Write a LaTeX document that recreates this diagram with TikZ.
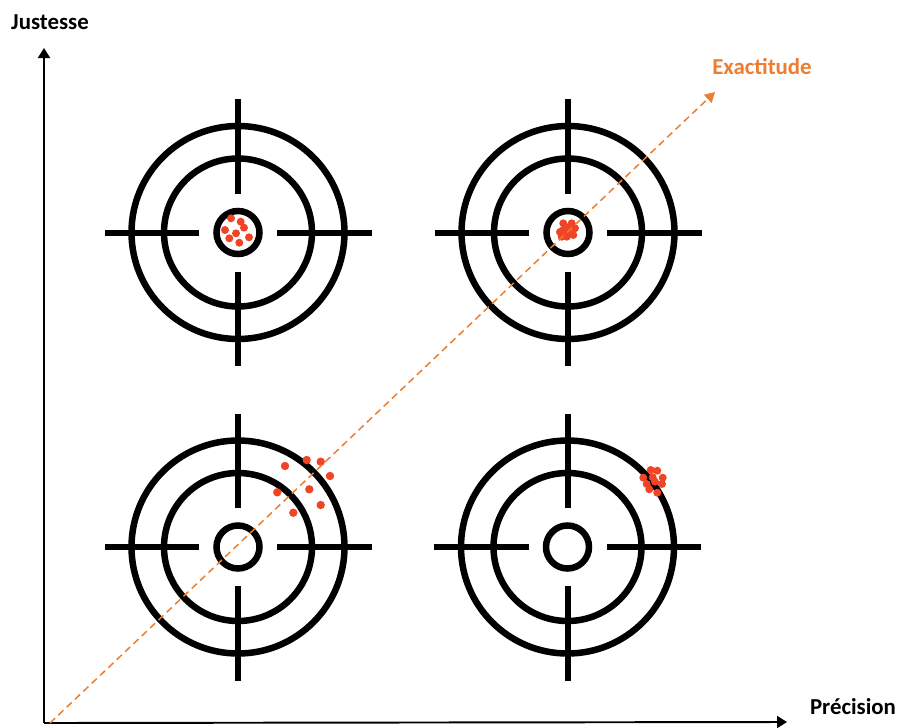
\documentclass[tikz,border=0pt]{standalone}
\usepackage{fontspec}
\setmainfont{Carlito}
\usetikzlibrary{arrows.meta}
\definecolor{cExact}{RGB}{237,125,49}
\definecolor{cShot} {RGB}{240,68,38}
\tikzset{
  ring/.style   = {draw=black, line width=0.13cm},
  arm/.style    = {draw=black, line width=0.12cm},
  shot/.style   = {fill=cShot},
  axis/.style   = {-{Triangle[length=2mm,width=2.4mm]}, black, line width=1.1pt},
  exact/.style  = {-{Triangle[length=2mm,width=2.2mm]}, cExact, line width=0.85pt,
                   dash pattern=on 0.14cm off 0.09cm},
  axlab/.style  = {font=\fontsize{13}{15}\selectfont\bfseries, inner sep=0pt},
}

\begin{document}
\begin{tikzpicture}[x=0.02cm, y=-0.02cm]
  \useasboundingbox (0,0) rectangle (899,727);

  % ---- axes ---------------------------------------------------------
  \coordinate (O)    at (44,723);
  \coordinate (yend) at (44,48);
  \coordinate (xend) at (787,722);
  \draw[axis] (O) -- (yend);
  \draw[axis] (O) -- (xend);
  \node[axlab] (just) at (50,22)  {Justesse};
  \node[axlab] (prec) at (853,707) {Précision};

  % ---- the four targets ---------------------------------------------
  \coordinate (tl) at (238,232.5);
  \coordinate (tr) at (568,232.5);
  \coordinate (bl) at (238,547);
  \coordinate (br) at (567.5,547);

  \foreach \c in {tl,tr,bl,br} {
    \begin{scope}[shift={(\c)}]
      \foreach \r in {106.5,74,21.5}
        \draw[ring] (0,0) circle[radius=\r];
      \foreach \a in {0,90,180,270}
        \draw[arm, rotate=\a] (39,0) -- (133.5,0);
    \end{scope}
  }

  % ---- shots ----------------------------------------------------------
  % top left: accurate and precise
  \foreach \x/\y in {231/218.3, 240.7/221.7, 244/227.7, 225/230, 236/233.3,
                     249/237.3, 229.3/238.3, 239.3/242.7}
    \fill[shot] (\x,\y) circle[radius=4];
  % top right: tight group in the centre
  \foreach \x/\y in {563.3/223.3, 571.7/223.3, 575/228.3, 563.3/230,
                     568.3/231.7, 573.3/235, 566.7/236.7, 561.7/236.7,
                     569/227, 560/232}
    \fill[shot] (\x,\y) circle[radius=4];
  % bottom left: scattered
  \foreach \x/\y in {285/466, 306.7/460, 320.7/461.7, 330/476, 309.3/489.3,
                     277.3/492.3, 320.7/505, 293.3/512.7}
    \fill[shot] (\x,\y) circle[radius=4.2];
  % bottom right: tight group off centre
  \foreach \x/\y in {650.7/470, 657.3/470.7, 643.3/477.7, 652.7/477.3,
                     662.7/477.7, 646.7/484, 655/481.7, 662/484,
                     649.3/489.3, 657.3/492.7}
    \fill[shot] (\x,\y) circle[radius=4];

  % ---- exactitude ---------------------------------------------------
  \coordinate (ex0) at (50,723);
  \coordinate (ex1) at (715,92);
  \draw[exact] (ex0) -- (ex1);
  \node[axlab, text=cExact] (exlab) at (762,67) {Exactitude};

\end{tikzpicture}
\end{document}
